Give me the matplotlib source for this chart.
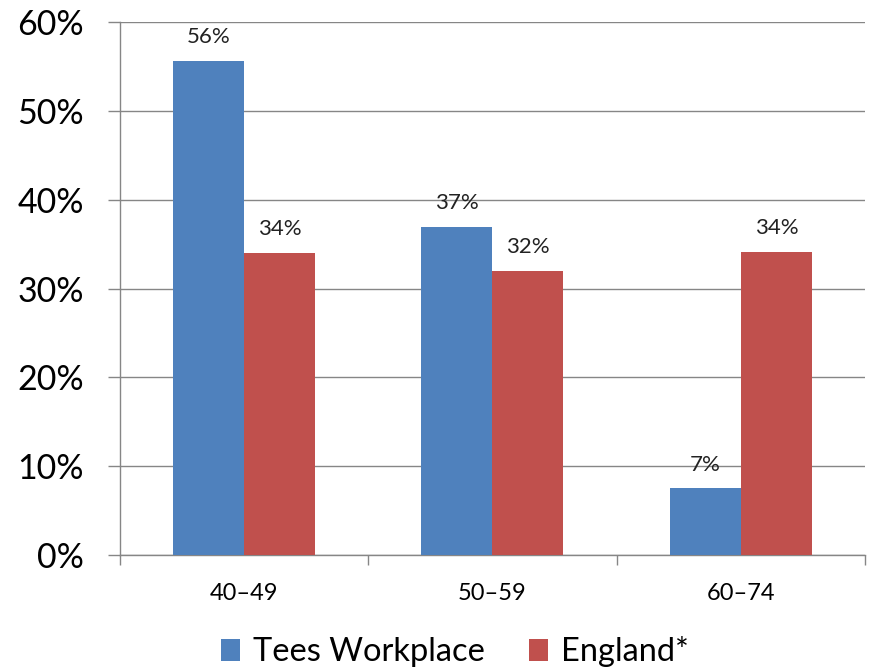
import numpy as np
import matplotlib.pyplot as plt

plt.rcParams["font.family"] = ["Lato", "DejaVu Sans"]

groups = ["40–49", "50–59", "60–74"]
tees = [55.6, 36.9, 7.5]
england = [34.0, 32.0, 34.1]
tees_labels = ["56%", "37%", "7%"]
england_labels = ["34%", "32%", "34%"]

grey = "#868686"
x = np.arange(len(groups))
w = 0.286

fig = plt.figure(figsize=(8.75, 6.7), dpi=100)
ax = fig.add_axes([0.137, 0.1716, 0.8516, 0.7954])

b1 = ax.bar(x - w / 2, tees, w, color="#4F81BD", label="Tees Workplace", zorder=3)
b2 = ax.bar(x + w / 2, england, w, color="#C0504D", label="England*", zorder=3)

for bars, labs in [(b1, tees_labels), (b2, england_labels)]:
    for b, lab in zip(bars, labs):
        ax.annotate(lab, (b.get_x() + b.get_width() / 2, b.get_height()),
                    xytext=(0, 10), textcoords="offset points",
                    ha="center", va="bottom", fontsize=16, color="#222222")

ax.set_xlim(-0.5, 2.5)
ax.set_ylim(0, 60)
ax.set_yticks(np.arange(0, 61, 10))
ax.set_yticklabels([f"{v}%" for v in range(0, 61, 10)], fontsize=24.5)
ax.yaxis.grid(True, color=grey, linewidth=1, zorder=0)
ax.set_axisbelow(True)

ax.set_xticks(x)
ax.set_xticklabels(groups, fontsize=17)
ax.set_xticks([-0.5, 0.5, 1.5, 2.5], minor=True)
ax.tick_params(axis="x", which="major", length=0, pad=20)
ax.tick_params(axis="x", which="minor", length=7, color=grey, width=1)
ax.tick_params(axis="y", length=9, color=grey, width=1, pad=17)

for s in ["top", "right"]:
    ax.spines[s].set_visible(False)
for s in ["left", "bottom"]:
    ax.spines[s].set_color(grey)
    ax.spines[s].set_linewidth(1)

fig.legend(handles=[b1, b2], loc="center", bbox_to_anchor=(0.52, 0.027),
           ncols=2, frameon=False, fontsize=23.5, handlelength=0.58,
           handleheight=0.65, handletextpad=0.4, columnspacing=1.35)

fig.savefig("out.png", dpi=100)
